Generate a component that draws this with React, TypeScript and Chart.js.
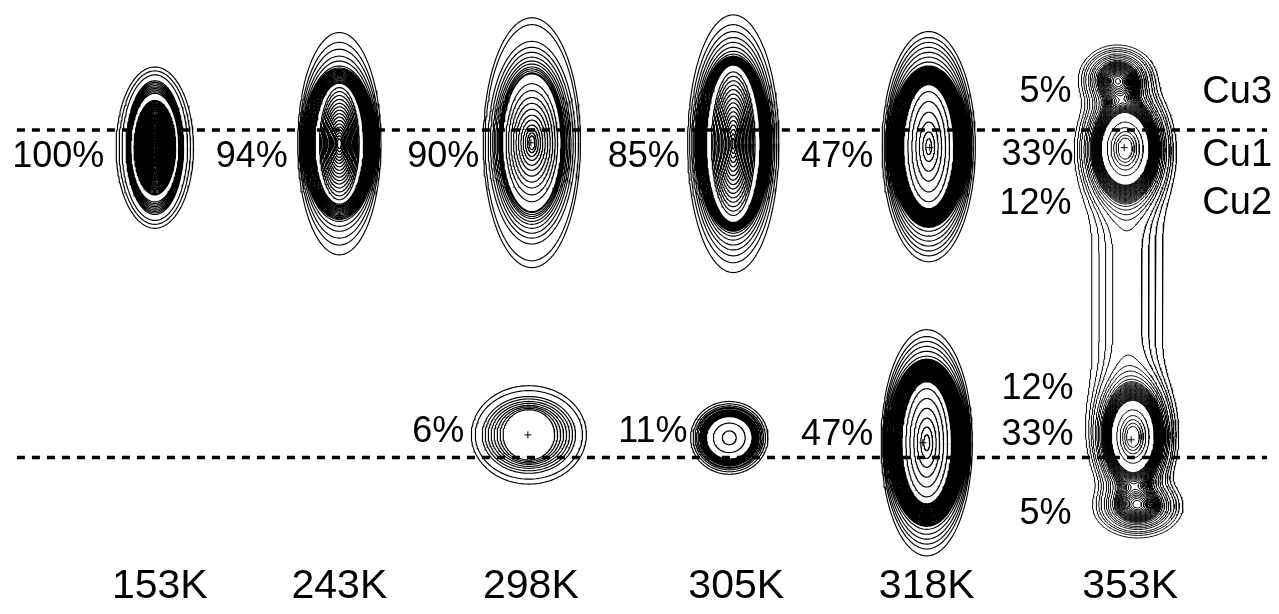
import React, { useEffect, useRef } from 'react';
import { Chart, registerables } from 'chart.js';

Chart.register(...registerables);

// ---------------- data ----------------
// temperature of each map and the horizontal position of its label
const temperatures = ['153K', '243K', '298K', '305K', '318K', '353K'];
const temperatureX = [156, 337, 530, 737, 929, 1134];
const temperatureY = 591;

// dashed reference lines through the Cu1 and Cu2 sites
const siteLineY = [127, 460];
const siteLineStartX = 12;
const siteLineEndX = 1272;

// occupancy labels (right edge x, middle y)
const shareText = ['100%', '94%', '90%', '85%', '47%', '33%', '5%', '12%', '6%', '11%', '47%', '12%', '33%', '5%'];
const shareX = [100, 285, 478, 680, 875, 1077, 1075, 1075, 463, 688, 875, 1077, 1077, 1075];
const shareY = [155, 155, 155, 155, 155, 153, 89, 202, 434, 434, 437, 390, 437, 518];

// site names (right edge x, middle y)
const siteNames = ['Cu3', 'Cu1', 'Cu2'];
const siteNameX = 1277;
const siteNameY = [89, 153, 202];

// single-site density peaks: centre and contour ring semi-axes [rx, ry]
const peakNames = ['153K Cu1', '243K Cu1', '298K Cu1', '305K Cu1', '318K Cu1', '298K Cu2', '305K Cu2', '318K Cu2'];
const peakCentreX = [151, 337, 531, 734, 931, 528, 730, 929];
const peakCentreY = [145, 141, 140, 141, 144, 437, 440, 445];

const rings153 = [[39, 82], [36, 78], [33, 74], [29, 68], [28.4, 66.4], [27.8, 64.8], [27.2, 63.2], [26.6, 61.6], [26, 60], [25.4, 58.4], [24.8, 56.8], [24.2, 55.2],
  [21, 48], [20.5, 46.8], [20, 45.5], [19.5, 44.2], [19, 43], [18.5, 41.8], [18, 40.5], [17.5, 39.2], [17, 38], [16.5, 36.8], [16, 35.5], [15.5, 34.2], [15, 33], [14.5, 31.8], [14, 30.5], [13.5, 29.2], [13, 28], [12.5, 26.8], [12, 25.5], [11.5, 24.2], [11, 23], [10.5, 21.8], [10, 20.5], [9.5, 19.2], [9, 18], [8.5, 16.8], [8, 15.5], [7.5, 14.2], [7, 13], [6.5, 11.8], [6, 10.5], [5.5, 9.2], [5, 8], [4.5, 7], [4, 6], [3, 4.5], [2, 3], [1, 1.5]];
const rings243 = [[42, 113], [40.5, 103], [39.5, 96], [38.5, 89], [37.5, 84], [37, 79], [36.5, 77], [35.5, 75.7], [34.5, 74.4], [33.5, 73.1], [32.5, 71.8], [31.5, 70.5], [30.5, 69.2], [29.5, 67.9], [28.5, 66.6], [27.5, 65.3], [26.5, 64], [25.5, 62.7], [24.5, 61.4],
  [20, 57], [18.8, 53], [17.6, 49], [16.4, 45], [15.2, 41], [14, 37.5], [12.8, 34], [11.6, 30.5], [10.4, 27], [9.2, 23.5], [8, 20], [6.8, 17], [5.6, 14], [4.4, 11], [3.2, 8], [2, 5]];
const rings298 = [[49, 127], [47, 120], [44, 103], [41.7, 97], [39.5, 92], [38, 87], [36.5, 83], [35, 80], [33.5, 77], [32.5, 75], [31.5, 73], [30.5, 71], [29.5, 70],
  [26, 60], [23.5, 53], [21, 46], [18.5, 40], [16, 34], [13.5, 28], [11, 23], [8.7, 18], [6.5, 14], [4.5, 10], [3, 7]];
const rings305 = [[46, 131], [44, 121], [42, 114], [40.5, 108], [39, 103], [38, 98], [37, 94], [36.5, 91], [36, 89], [35, 88], [34, 87], [33, 86], [32, 85], [31, 84], [30, 83], [29, 82], [28, 81], [27, 80],
  [22, 73], [20.6, 68.5], [19.2, 64], [17.8, 59.5], [16.4, 55], [15, 50.5], [13.6, 46], [12.2, 41.5], [10.8, 37], [9.4, 32.5], [8, 28], [6.6, 23.5], [5.2, 19], [3.8, 14.5], [2.4, 10], [1.2, 5.5]];
const rings318 = [[47, 117], [45, 111], [43.5, 106], [42.5, 101], [41.5, 96], [40.5, 91], [40, 86],
  [39.5, 82], [38.75, 81], [38, 80], [37.25, 79], [36.5, 78], [35.75, 77], [35, 76], [34.25, 75], [33.5, 74], [32.75, 73], [32, 72], [31.25, 71], [30.5, 70], [29.75, 69], [29, 68], [28.25, 67], [27.5, 66], [26.75, 65], [26, 64], [25.25, 63],
  [21, 56], [17, 46], [13, 35], [9.5, 25], [6, 15], [3, 8]];
const rings298b = [[58, 50], [54, 45], [47, 39], [44, 36.5], [41, 34], [38, 32], [35, 30], [32, 28.5], [29, 27], [26, 25.5]];
const rings305b = [[39, 37], [36.5, 34.5], [34.5, 32.5], [33, 31], [31.5, 30], [30, 28.5], [29, 27.5], [28, 26.5], [27, 25.5], [26, 24.5], [25, 23.5], [24, 22.5], [23, 21.5], [16, 15], [7, 7]];
const rings318b = [[46, 115], [44.5, 108], [43.5, 103], [42.5, 98], [41.5, 93], [41, 88],
  [40, 85], [39.25, 83.85], [38.5, 82.7], [37.75, 81.55], [37, 80.4], [36.25, 79.25], [35.5, 78.1], [34.75, 76.95], [34, 75.8], [33.25, 74.65], [32.5, 73.5], [31.75, 72.35], [31, 71.2], [30.25, 70.05], [29.5, 68.9], [28.75, 67.75], [28, 66.6], [27.25, 65.45], [26.5, 64.3], [25.75, 63.15], [25, 62],
  [21, 55], [17, 45], [13, 35], [9.5, 25], [6, 16], [3, 8]];
const peakRings = [rings153, rings243, rings298, rings305, rings318, rings298b, rings305b, rings318b];

// peak maxima marked with "+"
const markX = [530, 932, 925, 527, 1128, 1135];
const markY = [140, 145, 445, 437, 145, 442];

// 353K map: density components (Cu3, Cu1, Cu2, lower Cu3, bridge) and contour levels
const mixX = [1121, 1129, 1137, 1142, 1131];
const mixY = [75, 145, 440, 510, 293];
const mixSX = [17, 19, 17, 20, 24];
const mixSY = [15, 28, 28, 14, 140];
const mixPower = [2, 2, 2, 2, 6];
const mixAmp = [0.4, 1, 1, 0.38, 0.09];
const levels353 = [0.03, 0.045, 0.06, 0.075, 0.1, 0.12, 0.14, 0.165, 0.19,
  0.21, 0.221, 0.232, 0.243, 0.254, 0.265, 0.276, 0.287, 0.298, 0.309, 0.32, 0.332,
  0.344, 0.356, 0.368, 0.38, 0.392, 0.404, 0.416, 0.428, 0.44, 0.452, 0.464, 0.476,
  0.67, 0.79, 0.87, 0.93, 0.975];
const map353Box = [1050, 15, 1215, 580];

// ---------------- geometry helpers ----------------
type P = { x: number; y: number };
const GAP: P = { x: NaN, y: NaN };

function ringPoints(cx: number, cy: number, rings: number[][]): P[] {
  const out: P[] = [];
  const n = 140;
  for (const [rx, ry] of rings) {
    for (let k = 0; k <= n; k++) {
      const a = (k / n) * Math.PI * 2;
      out.push({ x: cx + rx * Math.cos(a), y: cy + ry * Math.sin(a) });
    }
    out.push(GAP);
  }
  return out;
}

function density(x: number, y: number): number {
  let s = 0;
  for (let i = 0; i < mixX.length; i++) {
    const dx = (x - mixX[i]) / mixSX[i];
    const dy = Math.abs(y - mixY[i]) / mixSY[i];
    s += mixAmp[i] * Math.exp(-0.5 * dx * dx - 0.5 * Math.pow(dy, mixPower[i]));
  }
  return s;
}

function contourPoints(levels: number[]): P[] {
  const [bx0, by0, bx1, by1] = map353Box;
  const step = 1.25;
  const nx = Math.round((bx1 - bx0) / step) + 1;
  const ny = Math.round((by1 - by0) / step) + 1;
  const g = new Float64Array(nx * ny);
  for (let j = 0; j < ny; j++) for (let i = 0; i < nx; i++) g[j * nx + i] = density(bx0 + i * step, by0 + j * step);
  const H = nx * ny;
  const out: P[] = [];
  for (const L of levels) {
    const pts = new Map<number, P>();
    const A: number[] = [];
    const B: number[] = [];
    const ep = (key: number, xa: number, ya: number, va: number, xb: number, yb: number, vb: number) => {
      if (!pts.has(key)) {
        const t = (L - va) / (vb - va);
        pts.set(key, { x: xa + (xb - xa) * t, y: ya + (yb - ya) * t });
      }
      return key;
    };
    for (let j = 0; j < ny - 1; j++) {
      for (let i = 0; i < nx - 1; i++) {
        const v0 = g[j * nx + i], v1 = g[j * nx + i + 1], v2 = g[(j + 1) * nx + i + 1], v3 = g[(j + 1) * nx + i];
        const code = (v0 > L ? 8 : 0) | (v1 > L ? 4 : 0) | (v2 > L ? 2 : 0) | (v3 > L ? 1 : 0);
        if (code === 0 || code === 15) continue;
        const xa = bx0 + i * step, ya = by0 + j * step, xb = xa + step, yb = ya + step;
        const T = () => ep(j * nx + i, xa, ya, v0, xb, ya, v1);
        const Bo = () => ep((j + 1) * nx + i, xa, yb, v3, xb, yb, v2);
        const Le = () => ep(H + j * nx + i, xa, ya, v0, xa, yb, v3);
        const R = () => ep(H + j * nx + i + 1, xb, ya, v1, xb, yb, v2);
        const seg = (a: number, b: number) => { A.push(a); B.push(b); };
        const centre = (v0 + v1 + v2 + v3) / 4 > L;
        switch (code) {
          case 1: case 14: seg(Le(), Bo()); break;
          case 2: case 13: seg(Bo(), R()); break;
          case 3: case 12: seg(Le(), R()); break;
          case 4: case 11: seg(T(), R()); break;
          case 6: case 9: seg(T(), Bo()); break;
          case 7: case 8: seg(T(), Le()); break;
          case 5:
            if (centre) { seg(Le(), T()); seg(Bo(), R()); } else { seg(T(), R()); seg(Le(), Bo()); }
            break;
          case 10:
            if (centre) { seg(T(), R()); seg(Le(), Bo()); } else { seg(T(), Le()); seg(Bo(), R()); }
            break;
        }
      }
    }
    const adj = new Map<number, number[]>();
    for (let s = 0; s < A.length; s++) {
      for (const k of [A[s], B[s]]) {
        const l = adj.get(k);
        if (l) l.push(s); else adj.set(k, [s]);
      }
    }
    const used = new Uint8Array(A.length);
    const walk = (startKey: number, acc: number[]) => {
      let cur = startKey;
      for (;;) {
        const list = adj.get(cur)!;
        let nxt = -1;
        for (const t of list) if (!used[t]) { nxt = t; break; }
        if (nxt < 0) break;
        used[nxt] = 1;
        cur = A[nxt] === cur ? B[nxt] : A[nxt];
        acc.push(cur);
      }
    };
    for (let s = 0; s < A.length; s++) {
      if (used[s]) continue;
      used[s] = 1;
      const fwd: number[] = [A[s], B[s]];
      walk(B[s], fwd);
      const back: number[] = [];
      walk(A[s], back);
      const chain = back.reverse().concat(fwd);
      for (const k of chain) out.push(pts.get(k)!);
      out.push(GAP);
    }
  }
  return out;
}

// ---------------- text plugin ----------------
const FONT = '"Liberation Sans", Arial, Helvetica, sans-serif';
const textPlugin = {
  id: 'mapLabels',
  afterDatasetsDraw(chart: any) {
    const { ctx } = chart;
    const xs = chart.scales.x;
    const ys = chart.scales.y;
    ctx.save();
    ctx.fillStyle = '#000';
    ctx.textBaseline = 'middle';
    ctx.font = `36px ${FONT}`;
    ctx.textAlign = 'right';
    shareText.forEach((t, i) => ctx.fillText(t, xs.getPixelForValue(shareX[i]), ys.getPixelForValue(shareY[i])));
    ctx.font = `38px ${FONT}`;
    siteNames.forEach((t, i) => ctx.fillText(t, xs.getPixelForValue(siteNameX), ys.getPixelForValue(siteNameY[i])));
    ctx.font = `41px ${FONT}`;
    ctx.textAlign = 'center';
    temperatures.forEach((t, i) => ctx.fillText(t, xs.getPixelForValue(temperatureX[i]), ys.getPixelForValue(temperatureY)));
    ctx.restore();
  },
};

export default function App() {
  const ref = useRef<HTMLCanvasElement>(null);
  useEffect(() => {
    if (!ref.current) return;
    const lineStyle = {
      showLine: true,
      pointRadius: 0,
      borderColor: '#000',
      borderWidth: 1.15,
      borderCapStyle: 'round' as const,
      borderJoinStyle: 'round' as const,
      tension: 0,
    };
    const datasets: any[] = [];
    siteLineY.forEach((y, i) => {
      datasets.push({
        label: `site line ${i + 1}`,
        data: [{ x: siteLineStartX, y }, { x: siteLineEndX, y }],
        showLine: true,
        pointRadius: 0,
        borderColor: '#000',
        borderWidth: 3.5,
        borderDash: [8, 7],
      });
    });
    datasets.push({
      label: 'maxima',
      data: markX.map((x, i) => ({ x, y: markY[i] })),
      showLine: false,
      pointStyle: 'cross',
      pointRadius: 3.5,
      pointBorderWidth: 1,
      pointBorderColor: '#000',
    });
    peakNames.forEach((name, i) => {
      datasets.push({ label: name, data: ringPoints(peakCentreX[i], peakCentreY[i], peakRings[i]), ...lineStyle });
    });
    datasets.push({ label: '353K', data: contourPoints(levels353), ...lineStyle, borderWidth: 1 });

    const chart = new Chart(ref.current, {
      type: 'scatter',
      data: { datasets },
      options: {
        animation: false,
        responsive: false,
        events: [],
        layout: { padding: 0 },
        scales: {
          x: { type: 'linear', min: 0, max: 1279, display: false },
          y: { type: 'linear', min: 0, max: 614, reverse: true, display: false },
        },
        plugins: { legend: { display: false }, tooltip: { enabled: false } },
      },
      plugins: [textPlugin],
    });
    return () => chart.destroy();
  }, []);
  return (
    <div style={{ position: 'absolute', left: 0, top: 0, width: 1279, height: 614, background: '#fff' }}>
      <canvas ref={ref} width={1279} height={614} style={{ display: 'block' }} />
    </div>
  );
}
